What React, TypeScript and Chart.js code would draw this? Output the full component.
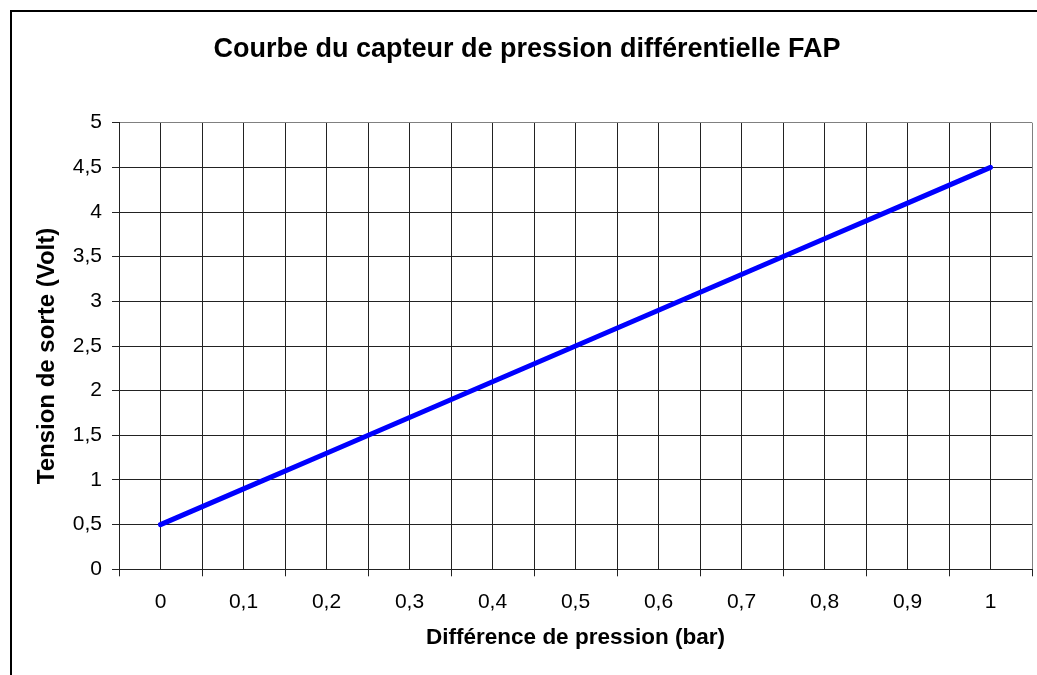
import React, { useEffect, useRef } from "react";
import { Chart, registerables } from "chart.js";

Chart.register(...registerables);

const pressures = [0, 0.1, 0.2, 0.3, 0.4, 0.5, 0.6, 0.7, 0.8, 0.9, 1];
const voltages = [0.5, 0.9, 1.3, 1.7, 2.1, 2.5, 2.9, 3.3, 3.7, 4.1, 4.5];
const xTickLabels = ["0", "0,1", "0,2", "0,3", "0,4", "0,5", "0,6", "0,7", "0,8", "0,9", "1"];
const yTickLabels = ["0", "0,5", "1", "1,5", "2", "2,5", "3", "3,5", "4", "4,5", "5"];

const titleText = "Courbe du capteur de pression différentielle FAP";
const xTitle = "Différence de pression (bar)";
const yTitle = "Tension de sorte (Volt)   ";

const FONT = "'Liberation Sans', Arial, sans-serif";
const GRID = "#222222";
const EDGE = "#808080";

export default function App() {
  const ref = useRef<HTMLCanvasElement | null>(null);

  useEffect(() => {
    if (!ref.current) return;
    const chart = new Chart(ref.current, {
      type: "line",
      data: {
        datasets: [
          {
            data: pressures.map((p, i) => ({ x: p, y: voltages[i] })),
            borderColor: "#0000FF",
            borderWidth: 5,
            borderCapStyle: "round",
            pointRadius: 0,
            tension: 0,
            fill: false,
          },
        ],
      },
      options: {
        animation: false,
        responsive: false,
        devicePixelRatio: 1,
        layout: { padding: { left: 0, right: 0, top: 0, bottom: 0 } },
        plugins: {
          legend: { display: false },
          tooltip: { enabled: false },
          title: {
            display: true,
            text: titleText,
            color: "#000",
            font: { family: FONT, size: 27, weight: "bold" },
            padding: { top: 21.3, bottom: 57.0 },
          },
        },
        scales: {
          x: {
            type: "linear",
            min: -0.05,
            max: 1.05,
            afterBuildTicks: (scale: any) => {
              const t = [];
              for (let i = 0; i <= 22; i++) t.push({ value: -0.05 + i * 0.05 });
              scale.ticks = t;
            },
            afterFit: (scale: any) => {
              scale.height = 122.7;
            },
            ticks: {
              autoSkip: false,
              maxRotation: 0,
              color: "#000",
              padding: 10,
              font: { family: FONT, size: 21, lineHeight: 1.543 },
              callback: (_v: any, index: number) =>
                index % 2 === 1 ? xTickLabels[(index - 1) / 2] : "",
            },
            grid: {
              color: (ctx: any) => (ctx.index === 22 ? EDGE : GRID),
              tickColor: (ctx: any) => (ctx.index % 2 === 0 ? GRID : "rgba(0,0,0,0)"),
              tickLength: 7,
              lineWidth: 1,
            },
            border: { color: GRID, width: 1 },
            title: {
              display: true,
              text: xTitle,
              color: "#000",
              font: { family: FONT, size: 22.5, weight: "bold" },
              padding: { top: 0, bottom: 40.5 },
            },
          },
          y: {
            type: "linear",
            min: 0,
            max: 5,
            afterFit: (scale: any) => {
              scale.width = 107;
            },
            ticks: {
              stepSize: 0.5,
              color: "#000",
              padding: 10,
              font: { family: FONT, size: 21 },
              callback: (_v: any, index: number) => yTickLabels[index],
            },
            grid: {
              color: (ctx: any) => (ctx.index === 10 ? EDGE : GRID),
              tickColor: GRID,
              tickLength: 7,
              lineWidth: 1,
            },
            border: { color: GRID, width: 1 },
            title: {
              display: true,
              text: yTitle,
              color: "#000",
              font: { family: FONT, size: 24, weight: "bold" },
              padding: { top: 20.6, bottom: 0 },
            },
          },
        },
      },
    } as any);
    return () => chart.destroy();
  }, []);

  return (
    <div
      style={{
        position: "fixed",
        left: 0,
        top: 0,
        width: 1037,
        height: 675,
        overflow: "hidden",
        background: "#fff",
      }}
    >
      <div
        style={{
          position: "absolute",
          left: 10,
          top: 10,
          width: 1030,
          height: 680,
          border: "2px solid #000",
          background: "#fff",
        }}
      >
        <canvas ref={ref} width={1030} height={680} />
      </div>
    </div>
  );
}
